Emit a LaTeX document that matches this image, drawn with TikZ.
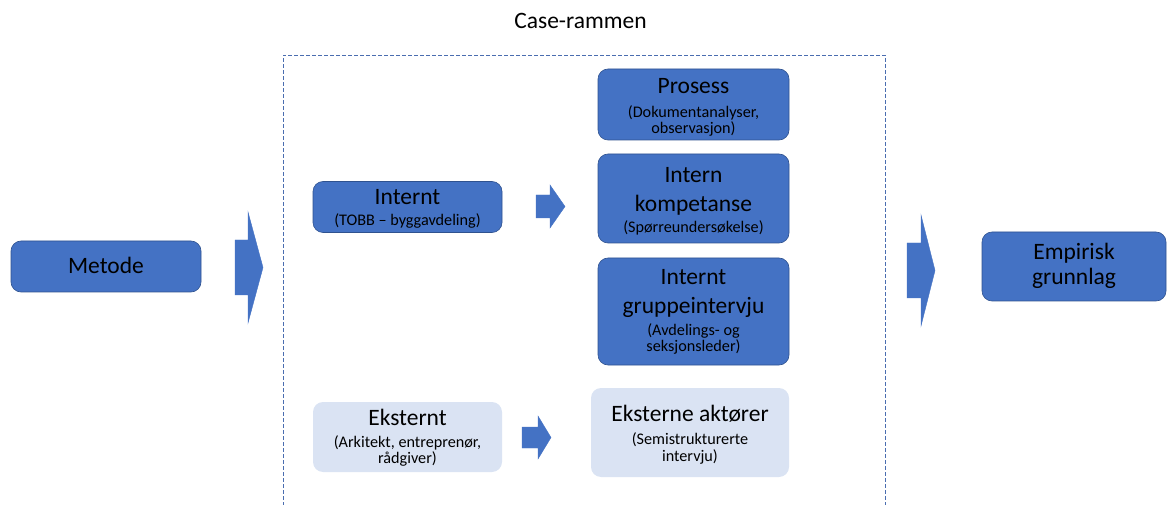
\documentclass[tikz,border=0pt]{standalone}
\usepackage{fontspec}
\setmainfont{Carlito}
\definecolor{boxblue}{HTML}{4472C4}
\definecolor{boxedge}{HTML}{2F528F}
\definecolor{lightbox}{HTML}{DAE3F3}
\definecolor{frameblue}{HTML}{4A6DB0}
\newcommand\headfont{\fontsize{23.5}{27}\selectfont}
\newcommand\subfont{\fontsize{16.2}{17}\selectfont}
\tikzset{
  darkbox/.style={draw=boxedge, line width=0.6pt, fill=boxblue, rounded corners=10pt,
    minimum width=#1, inner sep=0, outer sep=0},
  lightboxst/.style={draw=none, fill=lightbox, rounded corners=10pt,
    minimum width=#1, inner sep=0, outer sep=0},
  head/.style={anchor=base, inner sep=0, font=\headfont, text=black},
  sub/.style={anchor=base, inner sep=0, font=\subfont, text=black},
  blockarrow/.style={fill=boxblue, draw=boxblue, line width=0.4pt, line join=miter},
  caseframe/.style={draw=frameblue, line width=0.9pt, dash pattern=on 4pt off 2pt}
}
\begin{document}
\begin{tikzpicture}[x=1pt, y=-1pt]
\useasboundingbox (0,0) rectangle (1168,505);

% title and the dashed frame of the case (open at the bottom)
\node[head] (title) at (580.5,29) {Case-rammen};
\draw[caseframe] (283,512) -- (283,55) -- (885,55) -- (885,512);

% boxes
\node[darkbox=190pt, minimum height=51pt] (metode) at (106,266.5) {};
\node[darkbox=189pt, minimum height=51pt] (internt) at (407.5,207) {};
\node[darkbox=191pt, minimum height=71pt] (prosess) at (693.5,104.5) {};
\node[darkbox=191pt, minimum height=89pt] (kompetanse) at (693.5,198.5) {};
\node[darkbox=191pt, minimum height=107pt] (gruppe) at (693.5,311.5) {};
\node[lightboxst=189pt, minimum height=70pt] (eksternt) at (407.5,437) {};
\node[lightboxst=198pt, minimum height=89pt] (aktorer) at (690,432.5) {};
\node[darkbox=184pt, minimum height=69pt] (empirisk) at (1074,266.5) {};

% texts in the boxes
\node[head] (metode-t) at (106,274) {Metode};

\node[head] (internt-t1) at (407.5,205) {Internt};
\node[sub]  (internt-t2) at (407.5,226) {(TOBB – byggavdeling)};

\node[head] (prosess-t1) at (693.5,94) {Prosess};
\node[sub]  (prosess-t2) at (693.5,118) {(Dokumentanalyser,};
\node[sub]  (prosess-t3) at (693.5,133.5) {observasjon)};

\node[head] (komp-t1) at (693.5,183) {Intern};
\node[head] (komp-t2) at (693.5,212) {kompetanse};
\node[sub]  (komp-t3) at (693.5,233) {(Spørreundersøkelse)};

\node[head] (gruppe-t1) at (693.5,285) {Internt};
\node[head] (gruppe-t2) at (693.5,313) {gruppeintervju};
\node[sub]  (gruppe-t3) at (693.5,335) {(Avdelings- og};
\node[sub]  (gruppe-t4) at (693.5,351) {seksjonsleder)};

\node[head] (eksternt-t1) at (407.5,425) {Eksternt};
\node[sub]  (eksternt-t2) at (407.5,447) {(Arkitekt, entreprenør,};
\node[sub]  (eksternt-t3) at (407.5,463) {rådgiver)};

\node[head] (aktorer-t1) at (690,421) {Eksterne aktører};
\node[sub]  (aktorer-t2) at (690,444.5) {(Semistrukturerte};
\node[sub]  (aktorer-t3) at (690,461) {intervju)};

\node[head] (empirisk-t1) at (1074,260) {Empirisk};
\node[head] (empirisk-t2) at (1074,285) {grunnlag};

% block arrows
\fill[blockarrow] (235,240) -- (248,240) -- (248,212) -- (263,267.5)
  -- (248,323) -- (248,295) -- (235,295) -- cycle;
\fill[blockarrow] (536,195) -- (550,195) -- (550,185) -- (565,206.5)
  -- (550,228) -- (550,218) -- (536,218) -- cycle;
\fill[blockarrow] (522,427) -- (538,427) -- (538,416) -- (551,437.5)
  -- (538,459) -- (538,448) -- (522,448) -- cycle;
\fill[blockarrow] (907,243) -- (921,243) -- (921,215) -- (935,270.5)
  -- (921,326) -- (921,298) -- (907,298) -- cycle;
\end{tikzpicture}
\end{document}
